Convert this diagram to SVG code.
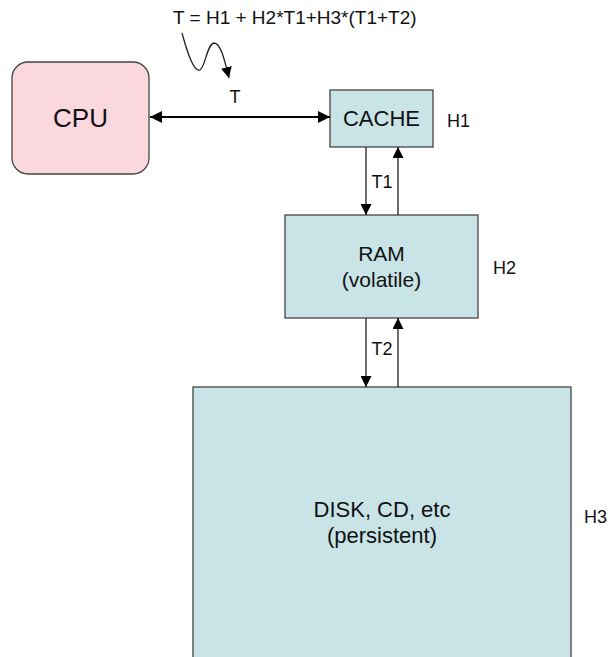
<svg xmlns="http://www.w3.org/2000/svg" width="608" height="657" viewBox="0 0 608 657">
<defs>
<marker id="ah" viewBox="0 0 10 10" refX="10" refY="5" markerWidth="12" markerHeight="12" markerUnits="userSpaceOnUse" orient="auto-start-reverse"><path d="M0,0 L10,5 L0,10 z" fill="#000"/></marker>
<marker id="ahs" viewBox="0 0 10 10" refX="10" refY="5" markerWidth="11" markerHeight="11" markerUnits="userSpaceOnUse" orient="auto"><path d="M0,0 L10,5 L0,10 z" fill="#000"/></marker>
</defs>
<style>
text{font-family:"Liberation Sans",Arial,sans-serif;fill:#111}
.box{fill:#c8e4e6;stroke:#444;stroke-width:1.3}
.ln{stroke:#222;stroke-width:1.3;fill:none}
.lb{font-size:18px}
</style>
<rect width="608" height="657" fill="#fff"/>
<text x="173" y="24" font-size="19">T = H1 + H2*T1+H3*(T1+T2)</text>
<g id="cpu"><rect x="12" y="62" width="137" height="112" rx="16" fill="#fbd7de" stroke="#444" stroke-width="1.3"/><text x="80.5" y="127" font-size="26" text-anchor="middle">CPU</text></g>
<g id="cache"><rect class="box" x="330" y="90" width="103" height="57"/><text x="381.5" y="126" font-size="22" text-anchor="middle">CACHE</text></g>
<g id="ram"><rect class="box" x="285" y="215" width="193" height="103"/><text x="381.5" y="261" font-size="21" text-anchor="middle">RAM</text><text x="381.5" y="287" font-size="21" text-anchor="middle">(volatile)</text></g>
<g id="disk"><rect class="box" x="193" y="387" width="378" height="280"/><text x="382" y="517" font-size="22" text-anchor="middle">DISK, CD, etc</text><text x="382" y="543" font-size="22" text-anchor="middle">(persistent)</text></g>
<g id="labels">
<text class="lb" x="447" y="127">H1</text>
<text class="lb" x="493" y="274">H2</text>
<text class="lb" x="584" y="523">H3</text>
<text class="lb" x="235" y="103" text-anchor="middle">T</text>
<text class="lb" x="382" y="188" text-anchor="middle">T1</text>
<text class="lb" x="382" y="355" text-anchor="middle">T2</text>
</g>
<g id="connectors">
<line x1="150" y1="117" x2="330" y2="117" stroke="#000" stroke-width="2" marker-start="url(#ah)" marker-end="url(#ah)"/>
<line class="ln" x1="366" y1="147" x2="366" y2="215" marker-end="url(#ahs)"/>
<line class="ln" x1="398" y1="215" x2="398" y2="147" marker-end="url(#ahs)"/>
<line class="ln" x1="366" y1="318" x2="366" y2="387" marker-end="url(#ahs)"/>
<line class="ln" x1="398" y1="387" x2="398" y2="318" marker-end="url(#ahs)"/>
<path class="ln" d="M182,33 C188,55 194,72 200,70 C205,68 207,44 214,43 C221,43 225,62 229,78" stroke-width="1" marker-end="url(#ahs)"/>
</g>
</svg>
